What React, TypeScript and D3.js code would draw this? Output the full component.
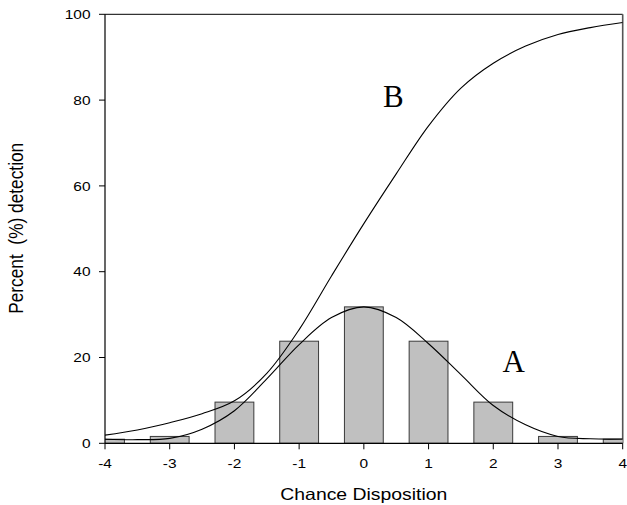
import React from "react";
import * as d3 from "d3";

// Histogram of chance disposition scores
const barCategories = [-4, -3, -2, -1, 0, 1, 2, 3, 4];
const barValues = [0.95, 1.6, 9.6, 23.8, 31.8, 23.8, 9.6, 1.6, 0.95];

// Smooth curves sampled every half unit
const curveX = [-4, -3.5, -3, -2.5, -2, -1.5, -1, -0.5, 0, 0.5, 1, 1.5, 2, 2.5, 3, 3.5, 4];
const curveA = [0.95, 0.85, 1.15, 3.3, 7.6, 15.0, 23.0, 29.3, 31.8, 29.3, 23.2, 16.0, 8.8, 4.3, 1.6, 1.05, 1.0];
const curveB = [1.9, 3.1, 4.8, 6.9, 9.9, 16.3, 26.5, 39.0, 51.2, 62.8, 74.0, 82.8, 88.6, 92.6, 95.3, 96.9, 98.1];

const xTicks = [-4, -3, -2, -1, 0, 1, 2, 3, 4];
const yTicks = [0, 20, 40, 60, 80, 100];

const W = 627;
const H = 505;
const left = 105;
const right = 622.7;
const top = 14.3;
const bottom = 443.3;
const barWidth = 0.6;
const stretch = 1.19;

export default function App() {
  const x = d3.scaleLinear().domain([-4, 4]).range([left, right]);
  const y = d3.scaleLinear().domain([0, 100]).range([bottom, top]);

  const line = d3
    .line<number>()
    .x((_, i) => x(curveX[i]))
    .y((d) => y(d))
    .curve(d3.curveCatmullRom.alpha(0.5));

  const sans = "Liberation Sans, Arial, sans-serif";
  const serif = "Liberation Serif, Times New Roman, serif";

  return (
    <svg
      width={W}
      height={H}
      style={{ position: "absolute", left: 0, top: 0, background: "#fff" }}
    >
      <defs>
        <clipPath id="plot">
          <rect x={left} y={top} width={right - left} height={bottom - top} />
        </clipPath>
      </defs>

      {/* frame */}
      <line x1={left} x2={right} y1={top} y2={top} stroke="#000" strokeWidth={1} />
      <line x1={right} x2={right} y1={top} y2={bottom} stroke="#555" strokeWidth={1.6} />

      <g clipPath="url(#plot)">
        {barCategories.map((c, i) => (
          <rect
            key={c}
            x={x(c - barWidth / 2)}
            y={y(barValues[i])}
            width={x(c + barWidth / 2) - x(c - barWidth / 2)}
            height={y(0) - y(barValues[i])}
            fill="#c0c0c0"
            stroke="#3a3a3a"
            strokeWidth={1}
          />
        ))}
        <path d={line(curveA) || ""} fill="none" stroke="#000" strokeWidth={1.1} />
        <path d={line(curveB) || ""} fill="none" stroke="#000" strokeWidth={1.1} />
      </g>

      {/* axes */}
      <line x1={left} x2={left} y1={top} y2={bottom} stroke="#000" strokeWidth={1.2} />
      <line x1={left} x2={right} y1={bottom} y2={bottom} stroke="#000" strokeWidth={1.2} />

      {xTicks.map((t) => (
        <g key={"x" + t}>
          <line x1={x(t)} x2={x(t)} y1={bottom} y2={bottom + 6} stroke="#000" strokeWidth={1} />
          <text
            transform={`translate(${x(t)},${bottom + 25}) scale(${stretch},1)`}
            textAnchor="middle"
            fontFamily={sans}
            fontSize={13}
            fill="#000"
          >
            {t}
          </text>
        </g>
      ))}

      {yTicks.map((t) => (
        <g key={"y" + t}>
          <line x1={left - 6} x2={left} y1={y(t)} y2={y(t)} stroke="#000" strokeWidth={1} />
          <text
            transform={`translate(${left - 14.5},${y(t) + 4.7}) scale(${stretch},1)`}
            textAnchor="end"
            fontFamily={sans}
            fontSize={13}
            fill="#000"
          >
            {t}
          </text>
        </g>
      ))}

      <text
        transform={`translate(${x(0)},500) scale(${stretch},1)`}
        textAnchor="middle"
        fontFamily={sans}
        fontSize={16.3}
        fill="#000"
      >
        Chance Disposition
      </text>

      <text
        transform={`translate(22.7,228.3) scale(${stretch},1) rotate(-90)`}
        textAnchor="middle"
        fontFamily={sans}
        fontSize={17.3}
        fill="#000"
        style={{ whiteSpace: "pre" }}
      >
        {"Percent  (%) detection"}
      </text>

      <text x={383} y={106.7} fontFamily={serif} fontSize={31} fill="#000">
        B
      </text>
      <text x={502.5} y={371.7} fontFamily={serif} fontSize={31} fill="#000">
        A
      </text>
    </svg>
  );
}
